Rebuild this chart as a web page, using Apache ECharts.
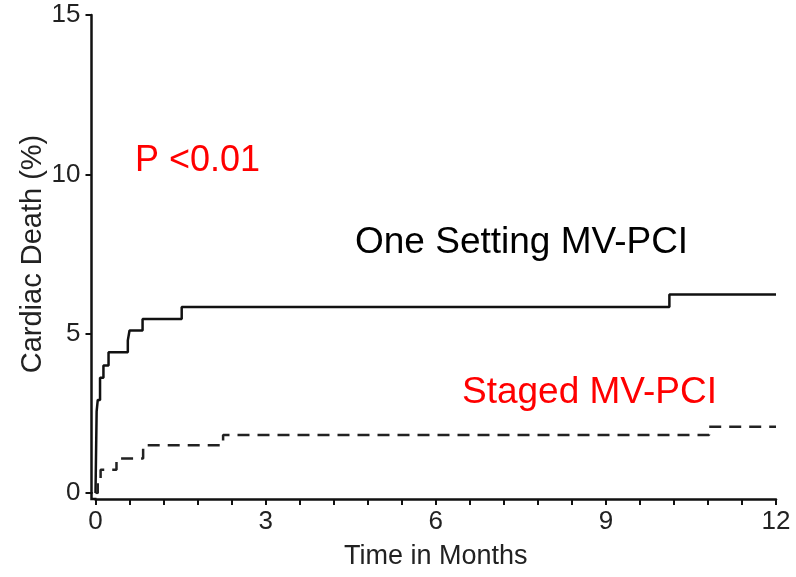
<!DOCTYPE html>
<html>
<head>
<meta charset="utf-8">
<title>Cardiac Death</title>
<script src="https://cdn.jsdelivr.net/npm/echarts@6/dist/echarts.min.js"></script>
<style>
  html, body { margin: 0; padding: 0; background: #fff; }
  #chart { width: 796px; height: 577px; }
</style>
</head>
<body>
<div id="chart"></div>
<script>
// Kaplan-Meier cumulative cardiac death (%) by month
const oneSettingTimes  = [0, 0.02, 0.04, 0.08, 0.14, 0.23, 0.57, 0.60, 0.83, 1.52, 10.12, 12];
const oneSettingValues = [0, 2.56, 2.92, 3.62, 4.00, 4.42, 4.79, 5.10, 5.46, 5.84, 6.23, 6.23];
const stagedTimes      = [0, 0.04, 0.09, 0.37, 0.84, 2.25, 10.82, 12];
const stagedValues     = [0, 0.37, 0.73, 1.08, 1.50, 1.82, 2.08, 2.08];

const xTicks = [0, 3, 6, 9, 12];
const yTicks = [0, 5, 10, 15];

const FONT = '"Liberation Sans", Arial, sans-serif';
const AXIS_TEXT = '#222';

const pairs = (xs, ys) => xs.map((x, i) => [x, ys[i]]);

const chart = echarts.init(document.getElementById('chart'), null, { renderer: 'canvas' });

const option = {
  animation: false,
  backgroundColor: '#fff',
  grid: { left: 95.5, right: 20, top: 15, bottom: 84, containLabel: false },
  xAxis: {
    type: 'value',
    min: xTicks[0],
    max: xTicks[xTicks.length - 1],
    interval: 3,
    offset: 6,
    name: 'Time in Months',
    nameLocation: 'middle',
    nameGap: 44,
    nameMoveOverlap: false,
    nameTextStyle: { fontFamily: FONT, fontSize: 27, color: AXIS_TEXT },
    axisLine: { show: true, onZero: false, lineStyle: { color: '#111', width: 2.5 } },
    axisTick: { show: true, length: 6, lineStyle: { color: '#111', width: 2 } },
    minorTick: { show: true, splitNumber: 5, length: 6, lineStyle: { color: '#111', width: 2 } },
    axisLabel: { margin: 10, fontFamily: FONT, fontSize: 26, color: AXIS_TEXT },
    splitLine: { show: false }
  },
  yAxis: {
    type: 'value',
    min: yTicks[0],
    max: yTicks[yTicks.length - 1],
    interval: 5,
    offset: 4,
    name: 'Cardiac Death (%)',
    nameLocation: 'middle',
    nameGap: 44,
    nameMoveOverlap: false,
    nameTextStyle: { fontFamily: FONT, fontSize: 29, color: AXIS_TEXT },
    axisLine: { show: true, onZero: false, lineStyle: { color: '#111', width: 2.5 } },
    axisTick: { show: true, length: 6, lineStyle: { color: '#111', width: 2 } },
    axisLabel: { margin: 11, fontFamily: FONT, fontSize: 26, color: AXIS_TEXT },
    splitLine: { show: false }
  },
  series: [
    {
      name: 'One Setting MV-PCI',
      type: 'line',
      step: 'end',
      data: pairs(oneSettingTimes, oneSettingValues),
      showSymbol: false,
      lineStyle: { color: '#111', width: 2.5 }
    },
    {
      name: 'Staged MV-PCI',
      type: 'line',
      step: 'end',
      data: pairs(stagedTimes, stagedValues),
      showSymbol: false,
      lineStyle: { color: '#222', width: 2.5, type: [12, 8] }
    }
  ]
};

chart.setOption(option);

// Close the corner between the offset axis lines, and place the annotations
const origin = chart.convertToPixel({ gridIndex: 0 }, [0, 0]);
chart.setOption({
  graphic: [
    {
      type: 'polyline',
      shape: { points: [[origin[0] - 4, origin[1] - 1], [origin[0] - 4, origin[1] + 6], [origin[0] + 1, origin[1] + 6]] },
      style: { stroke: '#111', lineWidth: 2.5, fill: null }
    },
    {
      type: 'text', left: 135, top: 143,
      style: { text: 'P <0.01', font: '36px ' + FONT, fill: '#ff0000' }
    },
    {
      type: 'text', left: 355, top: 224,
      style: { text: 'One Setting MV-PCI', font: '37px ' + FONT, fill: '#000' }
    },
    {
      type: 'text', left: 462, top: 374,
      style: { text: 'Staged MV-PCI', font: '37px ' + FONT, fill: '#ff0000' }
    }
  ]
});
</script>
</body>
</html>
